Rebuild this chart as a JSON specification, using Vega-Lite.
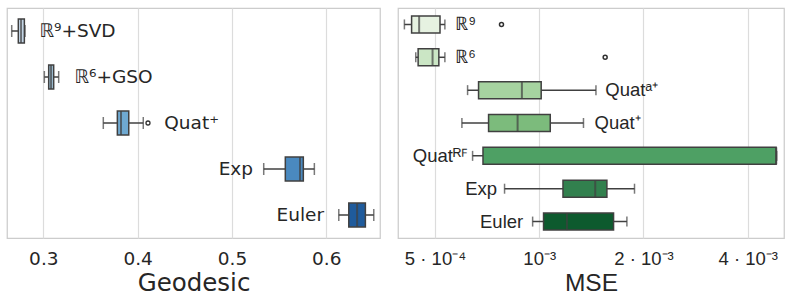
{
  "$schema": "https://vega.github.io/schema/vega-lite/v6.json",
  "padding": {"left": 6, "top": 7, "right": 0, "bottom": 0},
  "spacing": 16,
  "config": {
    "view": {"stroke": "#cccccc", "strokeWidth": 1.25},
    "axis": {"grid": true, "gridColor": "#dcdcdc", "gridWidth": 1.2, "domain": false, "ticks": false, "labelColor": "#262626", "titleColor": "#262626", "titleFontWeight": "normal"}
  },
  "datasets": {
    "geo": [
      {"m": "R9+SVD", "lo": 0.2665, "q1": 0.2735, "med": 0.2764, "q3": 0.2799, "hi": 0.2806},
      {"m": "R6+GSO", "lo": 0.3011, "q1": 0.3057, "med": 0.3082, "q3": 0.311, "hi": 0.3163},
      {"m": "Quat+", "lo": 0.3636, "q1": 0.3785, "med": 0.3824, "q3": 0.3906, "hi": 0.406},
      {"m": "Exp", "lo": 0.5337, "q1": 0.5566, "med": 0.5722, "q3": 0.5757, "hi": 0.5874},
      {"m": "Euler", "lo": 0.6133, "q1": 0.6239, "med": 0.6327, "q3": 0.6415, "hi": 0.6504}
    ],
    "geoOut": [{"m": "Quat+", "v": 0.411}],
    "geoLab": [
      {"m": "R9+SVD", "label": "ℝ⁹+SVD", "lx": 0.2958, "side": "L"},
      {"m": "R6+GSO", "label": "ℝ⁶+GSO", "lx": 0.3329, "side": "L"},
      {"m": "Quat+", "label": "Quat⁺", "lx": 0.4283, "side": "L"},
      {"m": "Exp", "label": "Exp", "lx": 0.5224, "side": "R"},
      {"m": "Euler", "label": "Euler", "lx": 0.5977, "side": "R"}
    ],
    "mse": [
      {"k": "R9", "lo": 0.000408, "q1": 0.000428, "med": 0.00045, "q3": 0.000517, "hi": 0.000534},
      {"k": "R6", "lo": 0.00044, "q1": 0.000447, "med": 0.000492, "q3": 0.000513, "hi": 0.000534},
      {"k": "Quat a+", "lo": 0.000621, "q1": 0.000668, "med": 0.000891, "q3": 0.001013, "hi": 0.001458},
      {"k": "Quat+", "lo": 0.000598, "q1": 0.000714, "med": 0.000866, "q3": 0.001076, "hi": 0.001342},
      {"k": "Quat RF", "lo": 0.000642, "q1": 0.000688, "med": 0.004835, "q3": 0.00483, "hi": 0.00485},
      {"k": "Exp", "lo": 0.000794, "q1": 0.001171, "med": 0.001451, "q3": 0.001568, "hi": 0.001884},
      {"k": "Euler", "lo": 0.000957, "q1": 0.001029, "med": 0.001202, "q3": 0.001639, "hi": 0.001791}
    ],
    "mseOut": [{"k": "R9", "v": 0.000778}, {"k": "R6", "v": 0.00155}],
    "mseLab": [
      {"k": "R9", "label": "ℝ⁹", "lx": 0.000572, "side": "L"},
      {"k": "R6", "label": "ℝ⁶", "lx": 0.000572, "side": "L"},
      {"k": "Quat a+", "label": "Quatᵃ⁺", "lx": 0.001551, "side": "L"},
      {"k": "Quat+", "label": "Quat⁺", "lx": 0.001444, "side": "L"},
      {"k": "Quat RF", "label": "Quatᴿꟳ", "lx": 0.00062, "side": "R"},
      {"k": "Exp", "label": "Exp", "lx": 0.000756, "side": "R"},
      {"k": "Euler", "label": "Euler", "lx": 0.000899, "side": "R"}
    ]
  },
  "hconcat": [
    {
      "width": 373,
      "height": 230,
      "layer": [
        {
          "data": {"name": "geo"},
          "mark": {"type": "rule", "stroke": "#404040", "strokeWidth": 1.5},
          "encoding": {
            "y": {"field": "m", "type": "nominal", "sort": ["R9+SVD", "R6+GSO", "Quat+", "Exp", "Euler"], "axis": null, "scale": {"paddingInner": 0.48, "paddingOuter": 0.24}},
            "x": {"field": "lo", "type": "quantitative", "title": "Geodesic", "scale": {"domain": [0.2615, 0.657], "nice": false, "zero": false},
              "axis": {"values": [0.3, 0.4, 0.5, 0.6], "format": ".1f", "labelFont": "DejaVu Sans", "labelFontSize": 18.5, "labelPadding": 11, "titleFont": "DejaVu Sans", "titleFontSize": 24.5, "titlePadding": 4}},
            "x2": {"field": "hi"}
          }
        },
        {
          "data": {"name": "geo"},
          "mark": {"type": "tick", "color": "#404040", "thickness": 1.5, "size": 12},
          "encoding": {"y": {"field": "m", "type": "nominal", "sort": ["R9+SVD", "R6+GSO", "Quat+", "Exp", "Euler"]}, "x": {"field": "lo", "type": "quantitative"}}
        },
        {
          "data": {"name": "geo"},
          "mark": {"type": "tick", "color": "#404040", "thickness": 1.5, "size": 12},
          "encoding": {"y": {"field": "m", "type": "nominal", "sort": ["R9+SVD", "R6+GSO", "Quat+", "Exp", "Euler"]}, "x": {"field": "hi", "type": "quantitative"}}
        },
        {
          "data": {"name": "geo"},
          "mark": {"type": "bar", "stroke": "#404040", "strokeWidth": 1.5, "opacity": 1},
          "encoding": {
            "y": {"field": "m", "type": "nominal", "sort": ["R9+SVD", "R6+GSO", "Quat+", "Exp", "Euler"]},
            "x": {"field": "q1", "type": "quantitative"},
            "x2": {"field": "q3"},
            "color": {"field": "m", "type": "nominal", "legend": null, "scale": {"domain": ["R9+SVD", "R6+GSO", "Quat+", "Exp", "Euler"], "range": ["#c9dbec", "#a3c6dc", "#6fa9d1", "#4a89bf", "#1f5b9c"]}}
          }
        },
        {
          "data": {"name": "geo"},
          "mark": {"type": "tick", "color": "#404040", "thickness": 2, "size": 24},
          "encoding": {"y": {"field": "m", "type": "nominal", "sort": ["R9+SVD", "R6+GSO", "Quat+", "Exp", "Euler"]}, "x": {"field": "med", "type": "quantitative"}}
        },
        {
          "data": {"name": "geoOut"},
          "mark": {"type": "point", "shape": "circle", "filled": false, "color": "#303030", "size": 16, "strokeWidth": 1.3, "opacity": 1},
          "encoding": {"y": {"field": "m", "type": "nominal", "sort": ["R9+SVD", "R6+GSO", "Quat+", "Exp", "Euler"]}, "x": {"field": "v", "type": "quantitative"}}
        },
        {
          "data": {"name": "geoLab"},
          "transform": [{"filter": "datum.side == 'L'"}],
          "mark": {"type": "text", "align": "left", "baseline": "middle", "font": "DejaVu Sans", "fontSize": 18.5, "color": "#262626"},
          "encoding": {"y": {"field": "m", "type": "nominal", "sort": ["R9+SVD", "R6+GSO", "Quat+", "Exp", "Euler"]}, "x": {"field": "lx", "type": "quantitative"}, "text": {"field": "label"}}
        },
        {
          "data": {"name": "geoLab"},
          "transform": [{"filter": "datum.side == 'R'"}],
          "mark": {"type": "text", "align": "right", "baseline": "middle", "font": "DejaVu Sans", "fontSize": 18.5, "color": "#262626"},
          "encoding": {"y": {"field": "m", "type": "nominal", "sort": ["R9+SVD", "R6+GSO", "Quat+", "Exp", "Euler"]}, "x": {"field": "lx", "type": "quantitative"}, "text": {"field": "label"}}
        }
      ]
    },
    {
      "width": 386,
      "height": 230,
      "layer": [
        {
          "data": {"name": "mse"},
          "mark": {"type": "rule", "stroke": "#404040", "strokeWidth": 1.5},
          "encoding": {
            "y": {"field": "k", "type": "nominal", "sort": ["R9", "R6", "Quat a+", "Quat+", "Quat RF", "Exp", "Euler"], "axis": null, "scale": {"paddingInner": 0.483, "paddingOuter": 0.2415}},
            "x": {"field": "lo", "type": "quantitative", "title": "MSE", "scale": {"type": "log", "domain": [0.000391, 0.00509], "nice": false},
              "axis": {"values": [0.0005, 0.001, 0.002, 0.004], "labelExpr": "datum.value < 0.0007 ? '5 · 10⁻⁴' : datum.value < 0.0015 ? '10⁻³' : datum.value < 0.003 ? '2 · 10⁻³' : '4 · 10⁻³'", "labelFont": "Liberation Sans", "labelFontSize": 18.5, "labelPadding": 11, "titleFont": "Liberation Sans", "titleFontSize": 24.5, "titlePadding": 4}},
            "x2": {"field": "hi"}
          }
        },
        {
          "data": {"name": "mse"},
          "mark": {"type": "tick", "color": "#404040", "thickness": 1.5, "size": 10},
          "encoding": {"y": {"field": "k", "type": "nominal", "sort": ["R9", "R6", "Quat a+", "Quat+", "Quat RF", "Exp", "Euler"]}, "x": {"field": "lo", "type": "quantitative"}}
        },
        {
          "data": {"name": "mse"},
          "mark": {"type": "tick", "color": "#404040", "thickness": 1.5, "size": 10},
          "encoding": {"y": {"field": "k", "type": "nominal", "sort": ["R9", "R6", "Quat a+", "Quat+", "Quat RF", "Exp", "Euler"]}, "x": {"field": "hi", "type": "quantitative"}}
        },
        {
          "data": {"name": "mse"},
          "mark": {"type": "bar", "stroke": "#404040", "strokeWidth": 1.5, "opacity": 1},
          "encoding": {
            "y": {"field": "k", "type": "nominal", "sort": ["R9", "R6", "Quat a+", "Quat+", "Quat RF", "Exp", "Euler"]},
            "x": {"field": "q1", "type": "quantitative"},
            "x2": {"field": "q3"},
            "color": {"field": "k", "type": "nominal", "legend": null, "scale": {"domain": ["R9", "R6", "Quat a+", "Quat+", "Quat RF", "Exp", "Euler"], "range": ["#e6f2e1", "#cbe6c5", "#a6d3a0", "#7cbb7c", "#4ea064", "#32804e", "#0d5a2e"]}}
          }
        },
        {
          "data": {"name": "mse"},
          "mark": {"type": "tick", "color": "#404040", "thickness": 2, "size": 17},
          "encoding": {"y": {"field": "k", "type": "nominal", "sort": ["R9", "R6", "Quat a+", "Quat+", "Quat RF", "Exp", "Euler"]}, "x": {"field": "med", "type": "quantitative"}}
        },
        {
          "data": {"name": "mseOut"},
          "mark": {"type": "point", "shape": "circle", "filled": false, "color": "#303030", "size": 16, "strokeWidth": 1.5, "opacity": 1},
          "encoding": {"y": {"field": "k", "type": "nominal", "sort": ["R9", "R6", "Quat a+", "Quat+", "Quat RF", "Exp", "Euler"]}, "x": {"field": "v", "type": "quantitative"}}
        },
        {
          "data": {"name": "mseLab"},
          "transform": [{"filter": "datum.side == 'L'"}],
          "mark": {"type": "text", "align": "left", "baseline": "middle", "font": "Liberation Sans", "fontSize": 18.5, "color": "#262626"},
          "encoding": {"y": {"field": "k", "type": "nominal", "sort": ["R9", "R6", "Quat a+", "Quat+", "Quat RF", "Exp", "Euler"]}, "x": {"field": "lx", "type": "quantitative"}, "text": {"field": "label"}}
        },
        {
          "data": {"name": "mseLab"},
          "transform": [{"filter": "datum.side == 'R'"}],
          "mark": {"type": "text", "align": "right", "baseline": "middle", "font": "Liberation Sans", "fontSize": 18.5, "color": "#262626"},
          "encoding": {"y": {"field": "k", "type": "nominal", "sort": ["R9", "R6", "Quat a+", "Quat+", "Quat RF", "Exp", "Euler"]}, "x": {"field": "lx", "type": "quantitative"}, "text": {"field": "label"}}
        }
      ]
    }
  ],
  "resolve": {"scale": {"x": "independent", "y": "independent", "color": "independent"}}
}
